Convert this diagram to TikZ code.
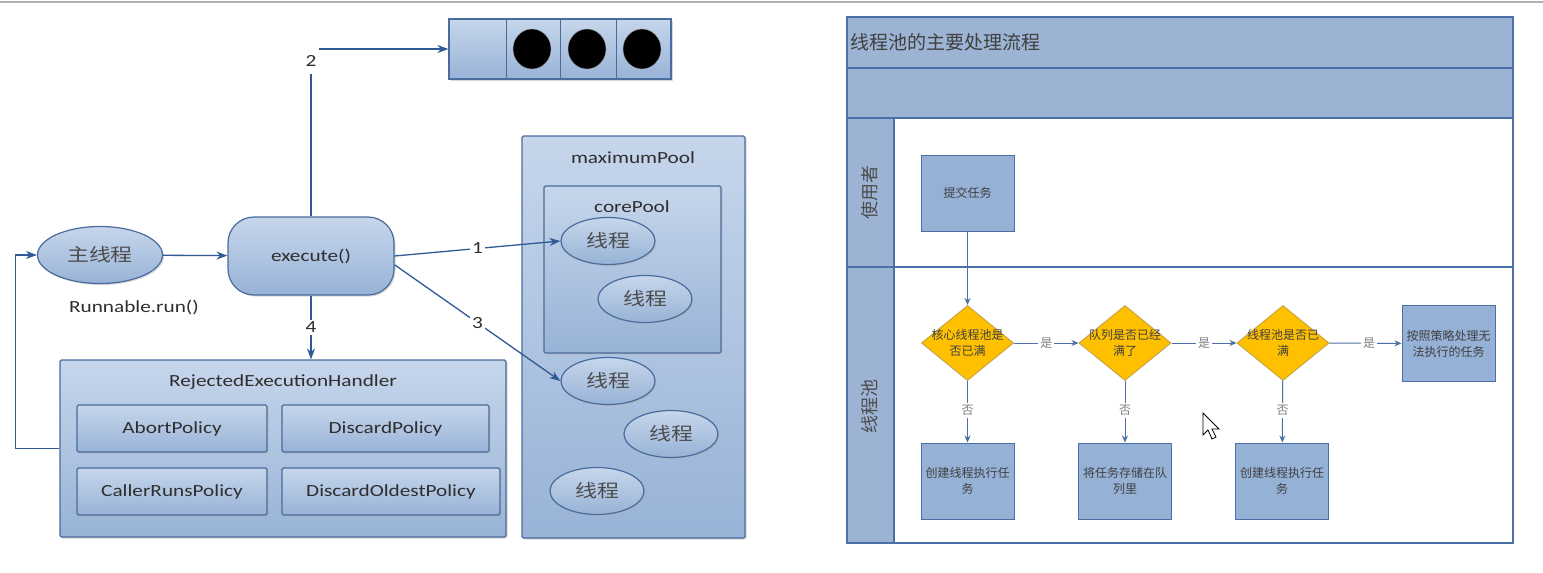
\documentclass[tikz,border=0pt]{standalone}
\usepackage{fontspec}
\setsansfont{Carlito}[FakeStretch=1.25]
\newfontfamily\cjkwide{Noto Sans CJK SC}[FakeStretch=1.22]
\newfontfamily\cjk{Noto Sans CJK SC}
\usetikzlibrary{arrows.meta,positioning,shapes.geometric,shadows}

\definecolor{boxtop}{HTML}{C6D6EB}
\definecolor{boxbot}{HTML}{98B3D7}
\definecolor{boxline}{HTML}{4A6B9C}
\definecolor{arrowblue}{HTML}{2F5A95}
\definecolor{laneblue}{HTML}{9CB3D4}
\definecolor{laneline}{HTML}{4B6FA6}
\definecolor{stepblue}{HTML}{95B1D6}
\definecolor{decgold}{HTML}{FFC000}
\definecolor{decline}{HTML}{C8A646}
\definecolor{txtgray}{HTML}{2E2E2E}

\begin{document}
\begin{tikzpicture}[x=1pt,y=-1pt,>={Stealth[length=11pt,width=8pt]},
        every node/.style={text=txtgray},
        latin/.style={font=\sffamily\fontsize{17}{20}\selectfont},
        pool/.style={draw=boxline,line width=1.2pt,top color=boxtop,bottom color=boxbot,
            rounded corners=1.5pt,drop shadow={shadow xshift=1.5pt,shadow yshift=-1.5pt,fill=black!30}},
        policy/.style={pool,latin,minimum height=47},
        thread/.style={pool,ellipse,minimum width=94,minimum height=47,
            font=\cjkwide\fontsize{18}{20}\selectfont,text=black!70},
        flow/.style={->,draw=arrowblue,line width=1.3pt},
        numlabel/.style={latin,fill=white,inner sep=2pt},
        lane/.style={draw=laneline,line width=1.2pt,fill=laneblue},
        stepbox/.style={draw=laneline,line width=1pt,fill=stepblue,minimum width=93,minimum height=76,
            align=center,font=\cjk\fontsize{12}{16}\selectfont,text=black!75},
        decision/.style={diamond,draw=decline,line width=1pt,fill=decgold,inner sep=0pt,
            minimum width=92,minimum height=75},
        answer/.style={fill=white,inner sep=2pt,font=\cjk\fontsize{12}{14}\selectfont,text=black!50},
        steparrow/.style={->,>={Stealth[length=7pt,width=6pt]},draw=laneline,line width=1pt}]
    \useasboundingbox (0,0) rectangle (1543,573);
    \draw[black!30,line width=1.5pt] (0,2) -- (1543,2);

    % left: executor
    \node[pool,minimum width=222,minimum height=60,rounded corners=0pt] at (560,49) (queue) {};
    \draw[boxline,line width=1pt] (506,19) -- (506,79) (560,19) -- (560,79) (616,19) -- (616,79);
    \fill[black,draw=black!40] (532,49) ellipse (19 and 20);
    \fill[black,draw=black!40] (587,49) ellipse (19 and 20);
    \fill[black,draw=black!40] (642,49) ellipse (19 and 20);

    \node[pool,minimum width=223,minimum height=402] at (633.5,337) (maxpool) {};
    \node[latin] at (633,158) (maxtitle) {maximumPool};
    \node[pool,minimum width=177,minimum height=167] at (632.5,269.5) (corepool) {};
    \node[latin] at (632,207) (coretitle) {corePool};
    \node[thread] at (608,241) (th1) {线程};
    \node[thread] at (645,299) (th2) {线程};
    \node[thread] at (608,381) (th3) {线程};
    \node[thread] at (671,434) (th4) {线程};
    \node[thread] at (597,491) (th5) {线程};

    \node[thread,minimum width=125,minimum height=57] at (100,255) (main) {主线程};
    \node[latin] at (134,307) (run) {Runnable.run()};
    \node[pool,latin,rounded corners=26pt,minimum width=166,minimum height=78] at (311,256) (exec) {execute()};

    \node[pool,minimum width=446,minimum height=177] at (283,448.5) (rej) {};
    \node[latin] at (283,382) (rejtitle) {RejectedExecutionHandler};
    \node[policy,minimum width=190] at (172,428.5) (abort) {AbortPolicy};
    \node[policy,minimum width=207] at (385.5,428.5) (discard) {DiscardPolicy};
    \node[policy,minimum width=190] at (172,491.5) (caller) {CallerRunsPolicy};
    \node[policy,minimum width=218] at (391,491.5) (oldest) {DiscardOldestPolicy};

    \draw[flow] (main) -- (exec);
    \draw[flow] (exec.north) |- node[numlabel,pos=0.464,minimum height=26,inner sep=3pt] {2} (queue.west);
    \path (exec.east) edge[flow] node[numlabel] {1} (th1.west)
        (exec.-6) edge[flow] node[numlabel] {3} (th3.west)
        (exec.south) edge[flow] node[numlabel] {4} (exec.south |- rej.north);
    \draw[flow] (rej.west) -- ++(-44,0) |- (main.west);

    % right: swimlanes
    \draw[lane] (847,17) rectangle (1513,68);
    \draw[lane] (847,68) rectangle (1513,118);
    \draw[draw=laneline,line width=1.2pt,fill=white] (847,118) rectangle (1513,543);
    \draw[lane] (847,118) rectangle (894,543);
    \draw[laneline,line width=2pt] (847,267) -- (1513,267);
    \node[anchor=west,font=\cjk\fontsize{19}{22}\selectfont,text=black!75,inner sep=1pt] at (849,42) (flowtitle) {线程池的主要处理流程};
    \node[rotate=90,font=\cjk\fontsize{18}{20}\selectfont,text=black!70] at (870,192) (user) {使用者};
    \node[rotate=90,font=\cjk\fontsize{18}{20}\selectfont,text=black!70] at (870,406) (poollane) {线程池};

    \node[stepbox] at (967.5,193) (submit) {提交任务};
    \node[decision,label={[align=center,font=\cjk\fontsize{12}{16}\selectfont,text=black!75]center:核心线程池是\\否已满}] at (967.5,343) (d1) {};
    \node[decision,label={[align=center,font=\cjk\fontsize{12}{16}\selectfont,text=black!75]center:队列是否已经\\满了}] at (1125,343) (d2) {};
    \node[decision,label={[align=center,font=\cjk\fontsize{12}{16}\selectfont,text=black!75]center:线程池是否已\\满}] at (1283,343) (d3) {};
    \node[stepbox] at (1448.5,343.5) (reject) {按照策略处理无\\法执行的任务};
    \node[stepbox] at (967.5,481) (create1) {创建线程执行任\\务};
    \node[stepbox] at (1125,481) (enqueue) {将任务存储在队\\列里};
    \node[stepbox] at (1282,481) (create2) {创建线程执行任\\务};

    \path (submit) edge[steparrow] (d1)
        (d1) edge[steparrow] node[answer] {是} (d2)
        (d2) edge[steparrow] node[answer] {是} (d3)
        (d3) edge[steparrow] node[answer,pos=0.55] {是} (reject)
        (d1) edge[steparrow] node[answer,pos=0.48] {否} (create1)
        (d2) edge[steparrow] node[answer,pos=0.48] {否} (enqueue)
        (d3) edge[steparrow] node[answer,pos=0.48] {否} (create2);

    \draw[black,fill=white,line width=0.8pt,shift={(1203,413)}] (0,0) -- (0,22) -- (5,17) -- (9,26)
        -- (13,24) -- (9,16) -- (16,16) -- cycle;
\end{tikzpicture}
\end{document}
